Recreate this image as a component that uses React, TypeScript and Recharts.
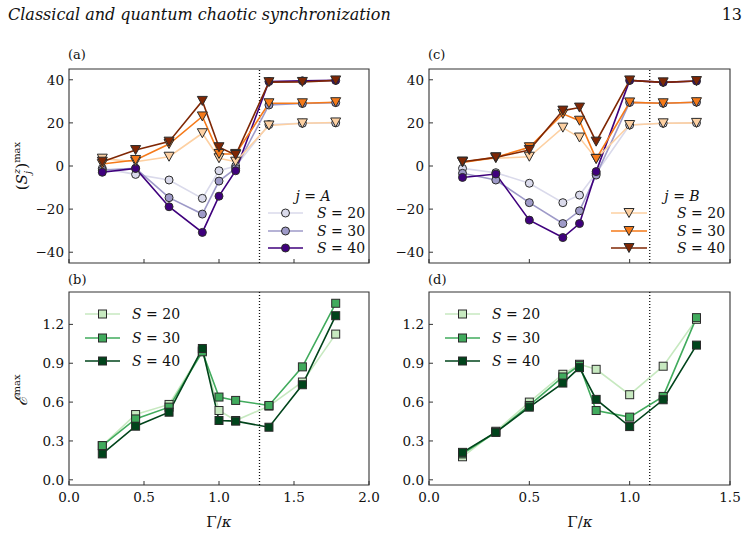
import React from "react";
import { LineChart, Line, XAxis, YAxis, ReferenceLine, ReferenceArea } from "recharts";

// x positions (Γ/κ) for left and right columns
const xLeft = [0.222, 0.444, 0.667, 0.889, 1.0, 1.111, 1.333, 1.556, 1.778];
const xRight = [0.167, 0.333, 0.5, 0.667, 0.75, 0.833, 1.0, 1.167, 1.333];

// (a) j = A : circles (A) and triangles (B)
const aCirc20 = [-1.1, -3.9, -6.5, -15.0, -2.2, 0.0, 19.2, 19.8, 20.0];
const aCirc30 = [-1.9, -1.1, -14.7, -22.3, -7.0, -1.1, 28.3, 29.0, 29.4];
const aCirc40 = [-2.9, -1.1, -18.9, -30.8, -14.0, -2.2, 39.2, 39.5, 39.7];
const aTri20 = [3.4, 2.0, 4.3, 15.2, 3.6, 2.0, 18.8, 19.8, 20.2];
const aTri30 = [0.9, 2.8, 10.2, 23.0, 5.6, 5.6, 29.1, 29.1, 29.6];
const aTri40 = [2.0, 7.4, 11.3, 30.2, 8.7, 5.1, 38.9, 39.0, 39.7];

// (c) j = B
const cCirc20 = [-1.1, -3.1, -8.0, -17.0, -13.5, -3.4, 19.0, 19.8, 20.0];
const cCirc30 = [-3.4, -6.5, -17.0, -26.7, -20.8, -4.2, 29.5, 29.1, 29.6];
const cCirc40 = [-5.3, -3.7, -25.1, -33.2, -26.7, -2.6, 39.7, 38.8, 39.4];
const cTri20 = [2.0, 3.6, 4.3, 17.8, 13.2, 3.3, 19.0, 19.8, 20.0];
const cTri30 = [1.7, 4.0, 8.7, 24.2, 21.0, 3.3, 29.5, 29.1, 29.6];
const cTri40 = [2.0, 4.0, 7.4, 25.7, 27.1, 11.3, 39.7, 38.8, 39.4];

// (b) and (d) E^max
const b20 = [0.264, 0.504, 0.582, 0.996, 0.535, 0.458, 0.569, 0.755, 1.125];
const b30 = [0.264, 0.47, 0.561, 0.988, 0.639, 0.613, 0.574, 0.872, 1.363];
const b40 = [0.2, 0.414, 0.522, 1.014, 0.458, 0.453, 0.406, 0.734, 1.267];
const d20 = [0.178, 0.375, 0.6, 0.815, 0.892, 0.853, 0.657, 0.877, 1.239];
const d30 = [0.2, 0.367, 0.574, 0.794, 0.884, 0.535, 0.484, 0.644, 1.252];
const d40 = [0.212, 0.367, 0.561, 0.747, 0.866, 0.621, 0.411, 0.618, 1.04];

const sLabels = ["20", "30", "40"];
const ticksLeftX = [0, 0.5, 1, 1.5, 2];
const ticksRightX = [0, 0.5, 1, 1.5];
const ticksSpin = [-40, -20, 0, 20, 40];
const ticksEnt = [0, 0.3, 0.6, 0.9, 1.2];

const purples = ["#dadaeb", "#9e9ac8", "#3f007d"];
const oranges = ["#fdd0a2", "#f57a1a", "#7f2704"];
const greens = ["#c7e9c0", "#41ab5d", "#00441b"];

const FONT = "'DejaVu Serif', serif";
const EDGE = "#2b2b2b";

type Shape = "circle" | "tri" | "square";
type Series = { key: string; color: string; shape: Shape };

function Marker({ shape, cx, cy, fill }: { shape: Shape; cx: number; cy: number; fill: string }) {
  if (shape === "circle")
    return <circle cx={cx} cy={cy} r={4} fill={fill} stroke={EDGE} strokeWidth={1} />;
  if (shape === "tri")
    return (
      <polygon
        points={`${cx - 5},${cy - 4.5} ${cx + 5},${cy - 4.5} ${cx},${cy + 4.5}`}
        fill={fill}
        stroke={EDGE}
        strokeWidth={1}
      />
    );
  return <rect x={cx - 4} y={cy - 4} width={8} height={8} fill={fill} stroke={EDGE} strokeWidth={1} />;
}

function rows(xs: number[], cols: Record<string, number[]>) {
  return xs.map((x, i) => {
    const r: Record<string, number> = { x };
    Object.keys(cols).forEach((k) => (r[k] = cols[k][i]));
    return r;
  });
}

const fmtSpin = (v: number) => (v < 0 ? "\u2212" + Math.abs(v) : String(v));
const fmtOne = (v: number) => v.toFixed(1);

function Panel(props: {
  left: number;
  top: number;
  width: number;
  height: number;
  data: Record<string, number>[];
  series: Series[];
  xMax: number;
  xTicks: number[];
  yDomain: [number, number];
  yTicks: number[];
  yFmt: (v: number) => string;
  showX: boolean;
  vline: number;
}) {
  const { left, top, width, height, data, series, xMax, xTicks, yDomain, yTicks, yFmt, showX, vline } = props;
  const right = width - 69 - (xMax === 2 ? 300 : 301);
  const margin = showX ? { top: 22, right, bottom: 19, left: 0 } : { top: 9, right, bottom: 6, left: 0 };
  const tickStyle = { fill: "#111", fontSize: 13.5, fontFamily: FONT };
  return (
    <div style={{ position: "absolute", left, top, width, height }}>
      <LineChart width={width} height={height} data={data} margin={margin}>
        <XAxis
          dataKey="x"
          type="number"
          domain={[0, xMax]}
          ticks={xTicks}
          interval={0}
          height={showX ? 30 : 1}
          axisLine={false}
          tickSize={-4}
          tickMargin={11}
          tickLine={{ stroke: "#333" }}
          tick={tickStyle}
          tickFormatter={showX ? fmtOne : () => ""}
        />
        <YAxis
          type="number"
          domain={yDomain}
          ticks={yTicks}
          interval={0}
          width={69}
          axisLine={false}
          tickSize={-4}
          tickMargin={9}
          tickLine={{ stroke: "#333" }}
          tick={tickStyle}
          tickFormatter={yFmt}
        />
        <ReferenceArea x1={0} x2={xMax} y1={yDomain[0]} y2={yDomain[1]} fill="none" fillOpacity={0} stroke="#333" strokeWidth={1.1} strokeOpacity={1} />
        <ReferenceLine x={vline} stroke="#111" strokeWidth={1.3} strokeDasharray="1 2" />
        {series.map((s) => (
          <Line
            key={s.key}
            dataKey={s.key}
            type="linear"
            stroke={s.color}
            strokeWidth={1.6}
            isAnimationActive={false}
            activeDot={false}
            dot={(p: any) => <Marker key={`${s.key}-${p.index}`} shape={s.shape} cx={p.cx} cy={p.cy} fill={s.color} />}
          />
        ))}
      </LineChart>
    </div>
  );
}

function LegendBox({ x0, x1, rows: ys, colors, shape, textX }: { x0: number; x1: number; rows: number[]; colors: string[]; shape: Shape; textX: number }) {
  const mid = (x0 + x1) / 2;
  return (
    <g>
      {ys.map((y, i) => (
        <g key={i}>
          <line x1={x0} x2={x1} y1={y} y2={y} stroke={colors[i]} strokeWidth={1.6} />
          <Marker shape={shape} cx={mid} cy={y} fill={colors[i]} />
          <text x={textX} y={y + 5} fontSize={14} fontFamily={FONT} fill="#111">
            <tspan fontStyle="italic">S</tspan> = {sLabels[i]}
          </text>
        </g>
      ))}
    </g>
  );
}

const spinSeries = (pre: string): Series[] => [
  { key: pre + "c20", color: purples[0], shape: "circle" },
  { key: pre + "c30", color: purples[1], shape: "circle" },
  { key: pre + "c40", color: purples[2], shape: "circle" },
  { key: pre + "t20", color: oranges[0], shape: "tri" },
  { key: pre + "t30", color: oranges[1], shape: "tri" },
  { key: pre + "t40", color: oranges[2], shape: "tri" },
];
const entSeries: Series[] = [
  { key: "e20", color: greens[0], shape: "square" },
  { key: "e30", color: greens[1], shape: "square" },
  { key: "e40", color: greens[2], shape: "square" },
];

export default function App() {
  const dataA = rows(xLeft, { ac20: aCirc20, ac30: aCirc30, ac40: aCirc40, at20: aTri20, at30: aTri30, at40: aTri40 });
  const dataC = rows(xRight, { cc20: cCirc20, cc30: cCirc30, cc40: cCirc40, ct20: cTri20, ct30: cTri30, ct40: cTri40 });
  const dataB = rows(xLeft, { e20: b20, e30: b30, e40: b40 });
  const dataD = rows(xRight, { e20: d20, e30: d30, e40: d40 });
  const legRows = [213, 231, 248];
  const legRowsE = [314, 338, 361];
  return (
    <div style={{ position: "absolute", left: 0, top: 0, width: 751, height: 534, background: "#fff", overflow: "hidden", fontFamily: FONT }}>
      <Panel left={0} top={60} width={380} height={210} data={dataA} series={spinSeries("a")} xMax={2} xTicks={ticksLeftX} yDomain={[-45, 45]} yTicks={ticksSpin} yFmt={fmtSpin} showX={false} vline={1.27} />
      <Panel left={0} top={270} width={380} height={264} data={dataB} series={entSeries} xMax={2} xTicks={ticksLeftX} yDomain={[-0.04, 1.45]} yTicks={ticksEnt} yFmt={fmtOne} showX={true} vline={1.27} />
      <Panel left={360} top={60} width={381} height={210} data={dataC} series={spinSeries("c")} xMax={1.5} xTicks={ticksRightX} yDomain={[-45, 45]} yTicks={ticksSpin} yFmt={fmtSpin} showX={false} vline={1.1} />
      <Panel left={360} top={270} width={381} height={264} data={dataD} series={entSeries} xMax={1.5} xTicks={ticksRightX} yDomain={[-0.04, 1.45]} yTicks={ticksEnt} yFmt={fmtOne} showX={true} vline={1.1} />
      <svg width={751} height={534} style={{ position: "absolute", left: 0, top: 0, pointerEvents: "none" }}>
        <g fontFamily={FONT} fill="#111">
          <text x={8} y={20} fontSize={16} fontStyle="italic">Classical and quantum chaotic synchronization</text>
          <text x={742} y={20} fontSize={16} textAnchor="end">13</text>
          <text x={68} y={59} fontSize={13}>(a)</text>
          <text x={428} y={59} fontSize={13}>(c)</text>
          <text x={68} y={284} fontSize={13}>(b)</text>
          <text x={428} y={284} fontSize={13}>(d)</text>
          <text transform="translate(27,166) rotate(-90)" textAnchor="middle" fontSize={15}>
            (<tspan fontStyle="italic">S</tspan>
            <tspan fontSize={10} fontStyle="italic" dy={4}>j</tspan>
            <tspan fontSize={10} fontStyle="italic" dx={-3} dy={-11}>z</tspan>
            <tspan dy={7}>)</tspan>
            <tspan fontSize={10} dy={-7}>max</tspan>
          </text>
          <text transform="translate(27,390) rotate(-90)" textAnchor="middle" fontSize={17}>
            <tspan fontStyle="italic">ℰ</tspan>
            <tspan fontSize={10} dy={-7}>max</tspan>
          </text>
          <text x={219} y={527} fontSize={15} textAnchor="middle">Γ/<tspan fontStyle="italic">κ</tspan></text>
          <text x={580} y={527} fontSize={15} textAnchor="middle">Γ/<tspan fontStyle="italic">κ</tspan></text>
          <text x={313} y={201} fontSize={14} textAnchor="middle"><tspan fontStyle="italic">j</tspan> = <tspan fontStyle="italic">A</tspan></text>
          <text x={682} y={201} fontSize={14} textAnchor="middle"><tspan fontStyle="italic">j</tspan> = <tspan fontStyle="italic">B</tspan></text>
        </g>
        <LegendBox x0={268} x1={303} rows={legRows} colors={purples} shape="circle" textX={317} />
        <LegendBox x0={611} x1={647} rows={legRows} colors={oranges} shape="tri" textX={677} />
        <LegendBox x0={85} x1={120} rows={legRowsE} colors={greens} shape="square" textX={132} />
        <LegendBox x0={445} x1={480} rows={legRowsE} colors={greens} shape="square" textX={492} />
      </svg>
    </div>
  );
}
